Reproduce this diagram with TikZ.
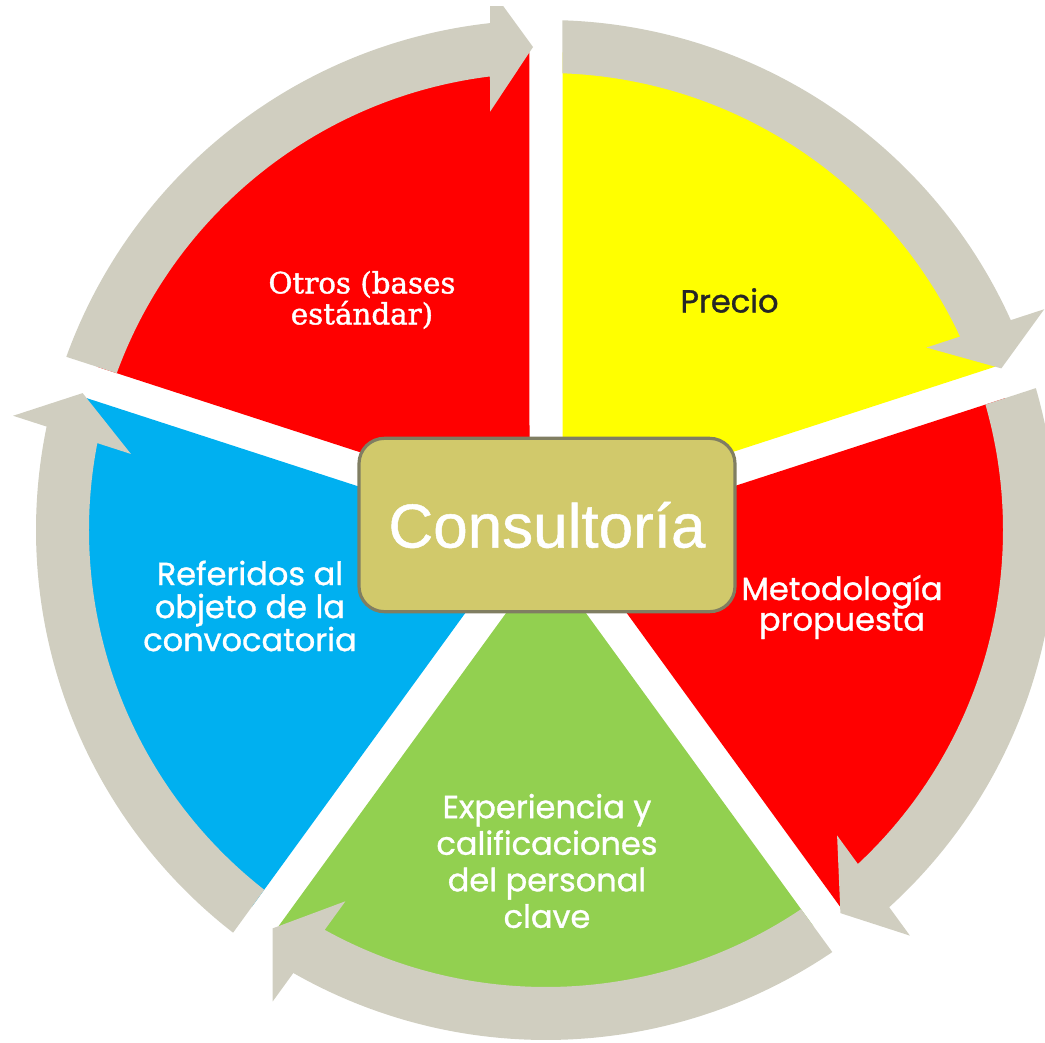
\documentclass[tikz,border=0pt]{standalone}
\usepackage{fontspec}
\setmainfont{Poppins}
\newfontfamily\lblfont[FakeBold=1.0]{Poppins}
\newfontfamily\otrosfont[FakeBold=1.4]{DejaVu Serif}
\newfontfamily\hubfont[FakeBold=0.8]{Liberation Sans}
\definecolor{segyellow}{RGB}{255,255,0}
\definecolor{segred}{RGB}{255,0,0}
\definecolor{seggreen}{RGB}{146,208,80}
\definecolor{segblue}{RGB}{0,176,240}
\definecolor{arrowgray}{RGB}{208,206,192}
\definecolor{hubfill}{RGB}{209,201,107}
\definecolor{hubline}{RGB}{128,126,98}
\definecolor{darktext}{RGB}{38,38,38}
\tikzset{
  hub/.style={draw=hubline, line width=2.4pt, fill=hubfill, rounded corners=19pt,
    minimum width=282pt, minimum height=130pt, inner sep=0pt,
    font=\hubfont\fontsize{46.5}{50}\selectfont, text=white},
  lbl/.style={align=center, text=white, inner sep=0pt},
}
\begin{document}
\begin{tikzpicture}[x=0.75pt,y=0.75pt]
\useasboundingbox (-546,-512) rectangle (499,530);
\begin{scope}
\clip (-546,-512) rectangle (499,523);
% segments
\foreach \k/\c in {0/segyellow,1/segred,2/seggreen,3/segblue,4/segred}{
  \begin{scope}[rotate=-72*\k]
    \fill[\c] (54:28.07) -- (88.02:478) arc[start angle=88.02, end angle=19.98, radius=478] -- cycle;
  \end{scope}
}
% circular arrows
\foreach \k in {0,...,4}{
  \begin{scope}[rotate=-72*\k]
    \fill[arrowgray] (88.15:510) arc[start angle=88.15, end angle=24.30, radius=510]
      -- (23.90:545) -- (19.54:483.2) -- (25.62:422) -- (25.04:457)
      arc[start angle=25.04, end angle=87.93, radius=457] -- cycle;
  \end{scope}
}
\end{scope}
% hub
\node[hub] (hub) at (1,5) {Consultoría};
% labels
\node[lbl, font=\otrosfont\fontsize{22}{23.25}\selectfont] (otros) at (-184,230) {Otros (bases\\estándar)};
\node[lbl, text=darktext, font=\lblfont\fontsize{24}{26}\selectfont] (precio) at (183.5,229.5) {Precio};
\node[lbl, font=\lblfont\fontsize{24}{23}\selectfont] (metodo) at (296,-77) {Metodología\\propuesta};
\node[lbl, font=\lblfont\fontsize{24}{27.4}\selectfont] (exper) at (1,-331) {Experiencia y\\calificaciones\\del personal\\clave};
\node[lbl, font=\lblfont\fontsize{24}{24.75}\selectfont] (refer) at (-296,-76) {Referidos al\\objeto de la\\convocatoria};
\end{tikzpicture}
\end{document}
